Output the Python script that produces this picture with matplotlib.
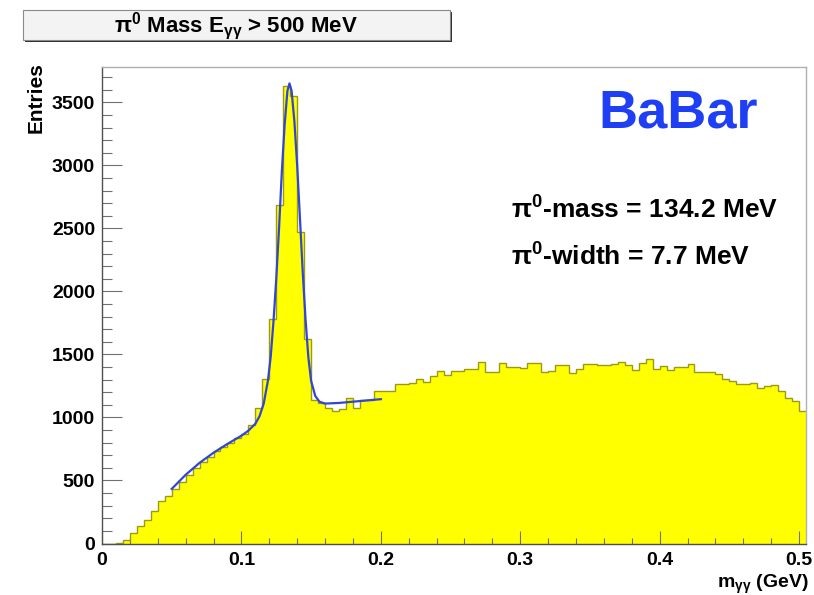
import matplotlib
matplotlib.use("Agg")
import matplotlib.pyplot as plt
import numpy as np
from matplotlib.patches import Rectangle
from matplotlib.ticker import MultipleLocator

plt.rcParams['font.family'] = ['Liberation Sans', 'DejaVu Sans']
plt.rcParams['font.weight'] = 'bold'
plt.rcParams['mathtext.default'] = 'regular'

# histogram: 101 bins of 5 MeV from 0 to 0.505 GeV
bin_width = 0.005
entries = [
    0, 0, 5, 30, 85, 140, 185, 260, 335, 375,
    435, 490, 540, 600, 645, 690, 730, 765, 800, 840,
    870, 944, 1077, 1302, 1780, 2683, 3626, 3547, 2471, 1620,
    1140, 1116, 1076, 1049, 1068, 1156, 1071, 1137, 1137, 1208,
    1208, 1208, 1262, 1262, 1275, 1307, 1281, 1328, 1368, 1333,
    1368, 1368, 1381, 1381, 1439, 1360, 1360, 1429, 1403, 1403,
    1392, 1434, 1434, 1360, 1368, 1413, 1413, 1355, 1387, 1421,
    1421, 1416, 1416, 1420, 1440, 1413, 1376, 1434, 1461, 1387,
    1408, 1373, 1402, 1402, 1421, 1363, 1360, 1360, 1347, 1301,
    1288, 1262, 1262, 1270, 1235, 1248, 1256, 1208, 1155, 1129,
    1049,
]

# fitted curve
fit_x = [0.050, 0.060, 0.070, 0.080, 0.090, 0.100, 0.105, 0.110, 0.113,
         0.116, 0.119, 0.121, 0.123, 0.125, 0.127, 0.129, 0.131, 0.133,
         0.1345, 0.136, 0.138, 0.140, 0.142, 0.144, 0.146, 0.148, 0.150,
         0.153, 0.156, 0.160, 0.170, 0.180, 0.190, 0.200]
fit_y = [433, 545, 640, 720, 790, 855, 895, 950, 1010,
         1110, 1290, 1480, 1760, 2100, 2500, 2950, 3320, 3590,
         3650, 3590, 3350, 3000, 2580, 2150, 1780, 1480, 1290,
         1170, 1125, 1110, 1115, 1125, 1135, 1145]

title = r'$\pi^0$ Mass E$_{\gamma\gamma}$ > 500 MeV'
mass_text = r'$\pi^0$-mass = 134.2 MeV'
width_text = r'$\pi^0$-width = 7.7 MeV'

W, H = 814, 595
fig = plt.figure(figsize=(W / 100, H / 100), dpi=100)


def fx(px):
    return px / W


def fy(py):
    return 1 - py / H


ax = fig.add_axes([fx(102), fy(543.5), fx(806) - fx(102), fy(67) - fy(543.5)])

edges = np.arange(len(entries) + 1) * bin_width
ax.stairs(entries, edges, fill=True, color='#ffff00', zorder=1)
ax.stairs(entries, edges, color='#9c9a10', linewidth=1.0, baseline=None, zorder=2)
ax.plot(fit_x, fit_y, color='#3146d4', linewidth=1.6, zorder=3)

ax.set_xlim(0, edges[-1])
ax.set_ylim(0, 3780)

ax.xaxis.set_major_locator(MultipleLocator(0.1))
ax.xaxis.set_minor_locator(MultipleLocator(0.02))
ax.yaxis.set_major_locator(MultipleLocator(500))
ax.yaxis.set_minor_locator(MultipleLocator(100))
ax.xaxis.set_major_formatter(matplotlib.ticker.FuncFormatter(lambda v, p: f'{v:g}'))

ax.tick_params(axis='both', which='both', direction='in', color='#707070', width=0.8,
               labelsize=14)
ax.tick_params(axis='y', which='major', length=14.5, pad=5)
ax.tick_params(axis='y', which='minor', length=7)
ax.tick_params(axis='x', which='major', length=9.5, pad=6)
ax.tick_params(axis='x', which='minor', length=4.5)
for lab in ax.get_xticklabels() + ax.get_yticklabels():
    lab.set_fontweight('bold')

for side in ['left', 'bottom']:
    ax.spines[side].set_color('#505050')
    ax.spines[side].set_linewidth(1.0)
for side in ['top', 'right']:
    ax.spines[side].set_color('#b0b0b0')
    ax.spines[side].set_linewidth(1.0)

fig.text(fx(36), fy(62), 'Entries', rotation=90, ha='center', va='top',
         fontsize=15, fontweight='bold')
fig.text(fx(809), fy(584), r'm$_{\gamma\gamma}$ (GeV)', ha='right', va='center',
         fontsize=14, fontweight='bold')

fig.text(fx(598), fy(128), 'BaBar', ha='left', va='baseline',
         fontsize=39, fontweight='bold', color='#1f3ff5')
fig.text(fx(511), fy(219), mass_text, ha='left', va='baseline', fontsize=19,
         fontweight='bold')
fig.text(fx(511), fy(266), width_text, ha='left', va='baseline', fontsize=19,
         fontweight='bold')

# title box with shadow
fig.add_artist(Rectangle((fx(25), fy(42)), fx(452) - fx(25), fy(12) - fy(42),
                         transform=fig.transFigure, facecolor='#303030',
                         edgecolor='none', zorder=5))
fig.add_artist(Rectangle((fx(23), fy(40)), fx(450) - fx(23), fy(10) - fy(40),
                         transform=fig.transFigure, facecolor='#f3f3f3',
                         edgecolor='#8a8a8a', linewidth=0.8, zorder=6))
fig.text(fx(236), fy(32), title, ha='center', va='baseline', fontsize=16,
         fontweight='bold', zorder=7)

fig.savefig('out.png', dpi=100)
